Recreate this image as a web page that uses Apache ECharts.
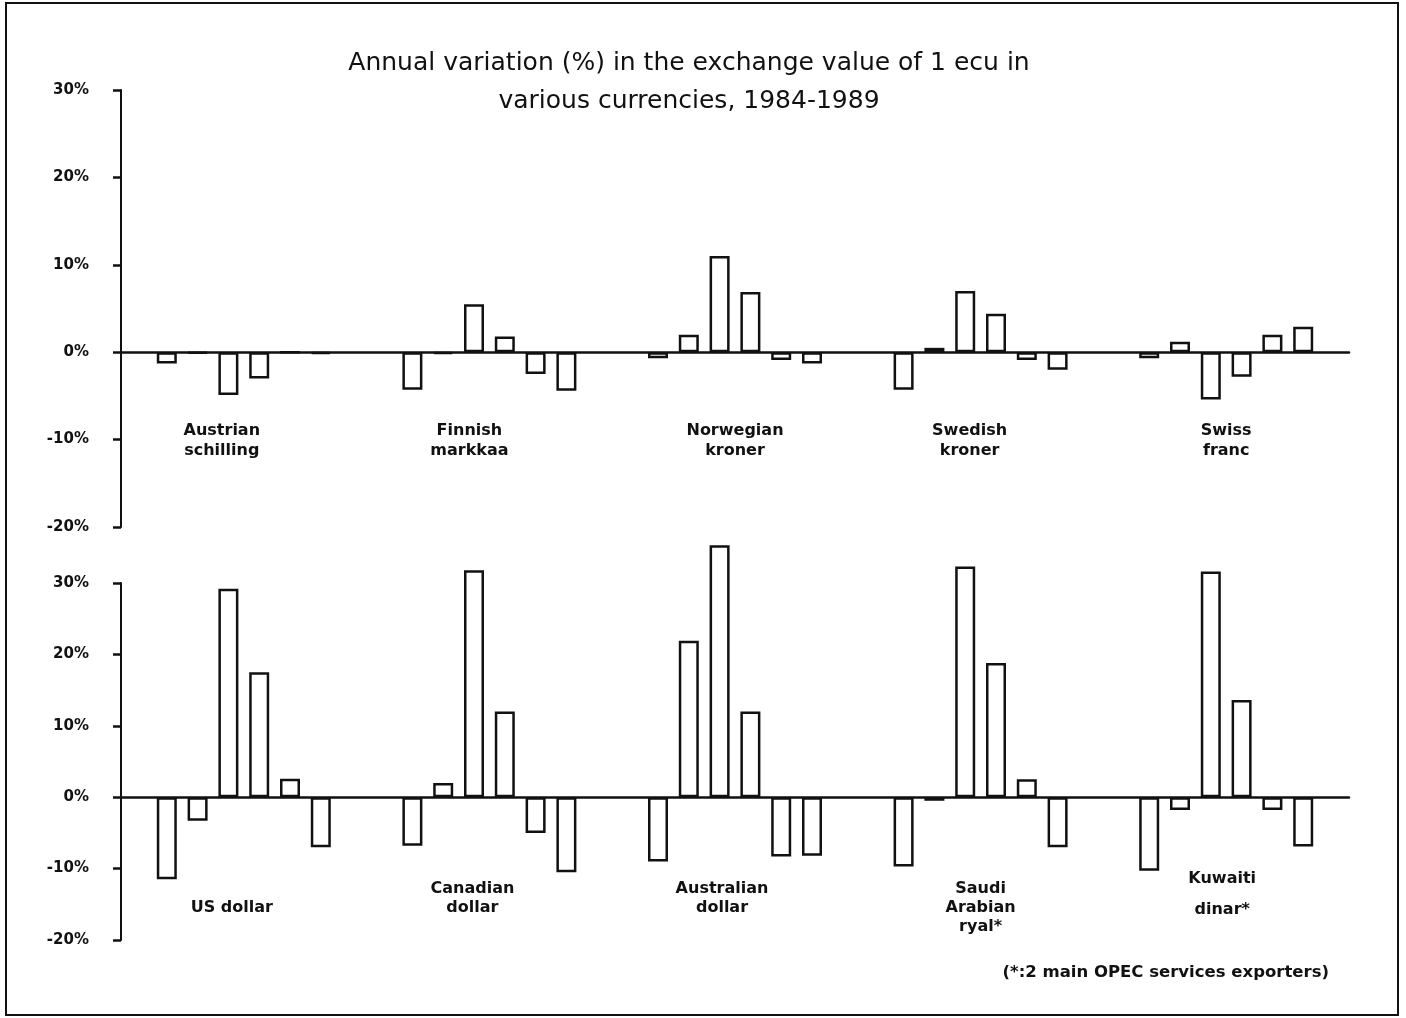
<!DOCTYPE html>
<html>
<head>
<meta charset="utf-8">
<script src="https://cdn.jsdelivr.net/npm/echarts@6/dist/echarts.min.js"></script>
<style>
html,body{margin:0;padding:0;background:#fff;}
#chart{width:1406px;height:1018px;}
</style>
</head>
<body>
<div id="chart"></div>
<script>
// Years (one bar per year inside each currency group)
const years = ['1984', '1985', '1986', '1987', '1988', '1989'];

// Top panel categories and values (% annual variation, 1984..1989)
const topCategories = ['Austrian\nschilling', 'Finnish\nmarkkaa', 'Norwegian\nkroner', 'Swedish\nkroner', 'Swiss\nfranc'];
const austrianSchilling = [-1.3, -0.1, -4.9, -3.0, 0.0, -0.2];
const finnishMarkkaa    = [-4.3, -0.2, 5.5, 1.8, -2.5, -4.4];
const norwegianKroner   = [-0.7, 2.0, 11.0, 6.9, -0.9, -1.3];
const swedishKroner     = [-4.3, 0.5, 7.0, 4.4, -0.9, -2.0];
const swissFranc        = [-0.7, 1.2, -5.4, -2.8, 2.0, 2.9];

// Bottom panel categories and values
const bottomCategories = ['\nUS dollar', 'Canadian\ndollar', 'Australian\ndollar', 'Saudi\nArabian\nryal*', 'Kuwaiti\ndinar*'];
const usDollar          = [-11.5, -3.3, 29.2, 17.5, 2.6, -7.0];
const canadianDollar    = [-6.8, 2.0, 31.8, 12.0, -5.0, -10.5];
const australianDollar  = [-9.0, 21.9, 35.3, 12.0, -8.3, -8.2];
const saudiRyal         = [-9.7, -0.5, 32.3, 18.8, 2.5, -7.0];
const kuwaitiDinar      = [-10.3, -1.8, 31.6, 13.6, -1.8, -6.9];

// Axis ticks
const topTicks = [-20, -10, 0, 10, 20, 30];
const bottomTicks = [-20, -10, 0, 10, 20, 30];

const titleText = 'Annual variation (%) in the exchange value of 1 ecu in\nvarious currencies, 1984-1989';
const footnoteText = '(*:2 main OPEC services exporters)';

const topGroups = [austrianSchilling, finnishMarkkaa, norwegianKroner, swedishKroner, swissFranc];
const bottomGroups = [usDollar, canadianDollar, australianDollar, saudiRyal, kuwaitiDinar];

// Label styling (horizontal nudge = right padding, px) kept apart from data
const topLabelRightPad = [44, 40, 0, 22, 0];
const bottomLabelRightPad = [24, 34, 26, 0, 8];

const labelFont = 'DejaVu Sans';
const ink = '#111';

function yAxisFor(gridIndex, ticks) {
  return {
    type: 'value', gridIndex: gridIndex,
    min: ticks[0], max: ticks[ticks.length - 1], interval: 10,
    axisLine: { show: true, lineStyle: { color: ink, width: 2 } },
    axisTick: { show: true, inside: false, length: 8, lineStyle: { color: ink, width: 2.5 } },
    splitLine: { show: false },
    axisLabel: { formatter: '{value}%', color: ink, fontFamily: labelFont, fontWeight: 'bold', fontSize: 15, margin: 32 }
  };
}

function xAxisFor(gridIndex, cats, pads, margin, lineHeight) {
  return {
    type: 'category', gridIndex: gridIndex,
    data: cats.map((c, i) => {
      const isK = c.indexOf('Kuwaiti') === 0;
      return { value: c, textStyle: { padding: [isK ? 0 : 16, pads[i], 0, 0], lineHeight: isK ? 31 : lineHeight } };
    }),
    axisLine: { onZero: true, lineStyle: { color: ink, width: 2.5 } },
    axisTick: { show: false },
    axisLabel: { interval: 0, color: ink, fontFamily: labelFont, fontWeight: 'bold', fontSize: 16, lineHeight: lineHeight, margin: margin, align: 'center', verticalAlign: 'top' }
  };
}

const series = [];
years.forEach((y, i) => {
  series.push({
    name: y, type: 'bar', xAxisIndex: 0, yAxisIndex: 0,
    data: topGroups.map(g => g[i]),
    barWidth: 20, barGap: '54%', clip: false,
    itemStyle: { color: '#fff', borderColor: ink, borderWidth: 2.5 }
  });
});
years.forEach((y, i) => {
  series.push({
    name: y, type: 'bar', xAxisIndex: 1, yAxisIndex: 1,
    data: bottomGroups.map(g => g[i]),
    barWidth: 20, barGap: '54%', clip: false,
    itemStyle: { color: '#fff', borderColor: ink, borderWidth: 2.5 }
  });
});

const chart = echarts.init(document.getElementById('chart'), null, { renderer: 'canvas' });
chart.setOption({
  backgroundColor: '#fff',
  animation: false,
  title: [
    { text: titleText, left: 684, top: 39, textAlign: 'center',
      textStyle: { fontFamily: 'DejaVu Sans', fontWeight: 'normal', fontSize: 25, lineHeight: 38, color: ink } },
    { text: footnoteText, right: 72, top: 959,
      textStyle: { fontFamily: labelFont, fontWeight: 'bold', fontSize: 16.5, color: ink } }
  ],
  grid: [
    { left: 121, right: 57, top: 90, height: 437, outerBoundsMode: 'none', containLabel: false },
    { left: 121, right: 57, top: 583, height: 357, outerBoundsMode: 'none', containLabel: false }
  ],
  xAxis: [ xAxisFor(0, topCategories, topLabelRightPad, -122, 20), xAxisFor(1, bottomCategories, bottomLabelRightPad, -76.5, 19) ],
  yAxis: [ yAxisFor(0, topTicks), yAxisFor(1, bottomTicks) ],
  series: series,
  graphic: [
    { type: 'rect', shape: { x: 6, y: 3, width: 1392, height: 1012 },
      style: { fill: 'none', stroke: ink, lineWidth: 2 }, silent: true }
  ]
});
</script>
</body>
</html>
